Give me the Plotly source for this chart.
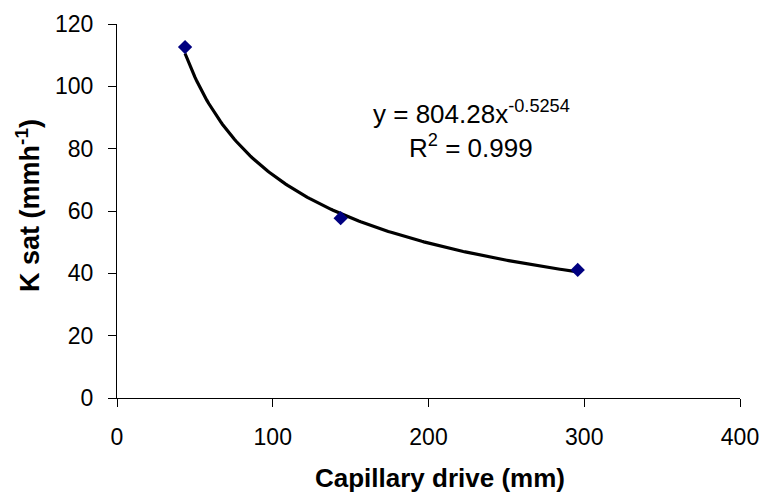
import numpy as np
import plotly.graph_objects as go

# Data
capillary_drive = [43.7, 143.6, 295.8]   # mm
k_sat = [112.6, 57.7, 41.1]              # mm/h

# Power trendline shown on the chart: y = a * x^b
trend_a = 804.28
trend_b = -0.5254
trend_r2 = 0.999

x_ticks = [0, 100, 200, 300, 400]
y_ticks = [0, 20, 40, 60, 80, 100, 120]

tx = np.linspace(min(capillary_drive), max(capillary_drive), 200)
ty = trend_a * tx ** trend_b

FONT = "Liberation Sans, Arial, sans-serif"

fig = go.Figure()
fig.add_trace(go.Scatter(x=tx, y=ty, mode="lines",
                         line=dict(color="black", width=3.2),
                         showlegend=False, hoverinfo="skip"))
fig.add_trace(go.Scatter(x=capillary_drive, y=k_sat, mode="markers",
                         marker=dict(symbol="diamond", size=11, color="#000080"),
                         showlegend=False))

fig.add_annotation(x=227.3, y=91.7, xref="x", yref="y",
                   text=f"y = {trend_a}x<sup>{trend_b}</sup>", showarrow=False,
                   font=dict(family=FONT, size=26, color="black"))
fig.add_annotation(x=227.3, y=80.6, xref="x", yref="y",
                   text=f"R<sup>2</sup> = {trend_r2}", showarrow=False,
                   font=dict(family=FONT, size=26, color="black"))

# axis titles drawn as annotations so they sit where the reference has them
fig.add_annotation(x=0.518, y=-0.215, xref="paper", yref="paper",
                   yanchor="middle", text="<b>Capillary drive (mm)</b>", showarrow=False,
                   font=dict(family=FONT, size=26, color="black"))
fig.add_annotation(x=-0.143, y=0.516, xref="paper", yref="paper",
                   xanchor="center", yanchor="middle", textangle=-90,
                   text="<b>K sat (mmh<sup>-1</sup>)</b>", showarrow=False,
                   font=dict(family=FONT, size=27, color="black"))

fig.update_layout(
    width=765, height=496, autosize=False,
    margin=dict(l=117, r=25, t=24, b=98, autoexpand=False),
    paper_bgcolor="white", plot_bgcolor="white",
    font=dict(family=FONT, size=23, color="black"),
    xaxis=dict(range=[0, 400], tickvals=x_ticks, showgrid=False, zeroline=False,
               showline=True, linecolor="black", linewidth=1,
               ticks="outside", ticklen=8, tickcolor="black",
               ticklabelstandoff=10,
               tickfont=dict(family=FONT, size=23, color="black")),
    yaxis=dict(range=[0, 120], tickvals=y_ticks, showgrid=False, zeroline=False,
               showline=True, linecolor="black", linewidth=1,
               ticks="outside", ticklen=8, tickcolor="black",
               ticklabelstandoff=10,
               tickfont=dict(family=FONT, size=23, color="black")),
)

# remove the default page margin so the 765x496 figure fills the window exactly
fig.write_html("out.html", config={"displayModeBar": False},
               post_script="document.body.style.margin='0';document.body.style.overflow='hidden';")
